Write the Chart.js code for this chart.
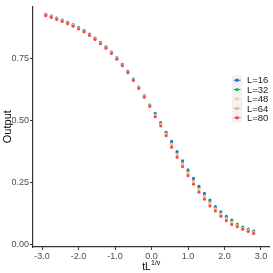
<!DOCTYPE html>
<html lang="en">
<head>
    <meta charset="UTF-8">
    <title>Scaling collapse</title>
    <script src="https://cdn.jsdelivr.net/npm/chart.js"></script>
    <style>
        html, body { margin: 0; padding: 0; background: #fff; }
        #wrap { width: 273px; height: 273px; position: relative; }
    </style>
</head>
<body>
    <div id="wrap"><canvas id="chart" width="273" height="273"></canvas></div>

    <script>
        // scaled variable tL^(1/v), shared by all sizes
        const xValues = [-2.9, -2.75, -2.6, -2.45, -2.3, -2.15, -2.0, -1.85, -1.7, -1.55,
            -1.4, -1.25, -1.1, -0.95, -0.8, -0.65, -0.5, -0.35, -0.2, -0.05,
            0.1, 0.25, 0.4, 0.55, 0.7, 0.85, 1.0, 1.15, 1.3, 1.45,
            1.6, 1.75, 1.9, 2.05, 2.2, 2.35, 2.5, 2.65, 2.8];

        const labels = ['L=16', 'L=32', 'L=48', 'L=64', 'L=80'];
        const colors = ['#2b63e6', '#1fa45e', '#fdcf7e', '#fba894', '#f3474d'];

        const outL16 = [0.928, 0.921, 0.913, 0.905, 0.896, 0.886, 0.875, 0.863, 0.849, 0.833,
            0.816, 0.797, 0.776, 0.753, 0.727, 0.699, 0.668, 0.635, 0.600, 0.563,
            0.530, 0.492, 0.453, 0.417, 0.376, 0.338, 0.302, 0.268, 0.236, 0.207,
            0.180, 0.154, 0.133, 0.115, 0.100, 0.083, 0.072, 0.063, 0.055];
        const outL32 = [0.927, 0.920, 0.912, 0.904, 0.895, 0.885, 0.874, 0.862, 0.848, 0.832,
            0.815, 0.796, 0.775, 0.752, 0.726, 0.698, 0.667, 0.634, 0.599, 0.562,
            0.527, 0.489, 0.450, 0.411, 0.370, 0.332, 0.296, 0.262, 0.230, 0.201,
            0.174, 0.150, 0.129, 0.111, 0.096, 0.081, 0.070, 0.061, 0.053];
        const outL48 = [0.925, 0.918, 0.910, 0.902, 0.893, 0.883, 0.872, 0.860, 0.846, 0.830,
            0.813, 0.794, 0.773, 0.750, 0.724, 0.696, 0.665, 0.632, 0.597, 0.560,
            0.523, 0.485, 0.446, 0.405, 0.364, 0.326, 0.290, 0.256, 0.224, 0.195,
            0.168, 0.145, 0.124, 0.106, 0.091, 0.078, 0.067, 0.058, 0.050];
        const outL64 = [0.924, 0.917, 0.909, 0.901, 0.892, 0.882, 0.871, 0.859, 0.845, 0.829,
            0.812, 0.793, 0.772, 0.749, 0.723, 0.695, 0.664, 0.631, 0.596, 0.559,
            0.519, 0.481, 0.442, 0.399, 0.358, 0.320, 0.284, 0.250, 0.218, 0.189,
            0.162, 0.140, 0.119, 0.101, 0.086, 0.075, 0.064, 0.055, 0.047];
        const outL80 = [0.922, 0.915, 0.907, 0.899, 0.890, 0.880, 0.869, 0.857, 0.843, 0.827,
            0.810, 0.791, 0.770, 0.747, 0.721, 0.693, 0.662, 0.629, 0.594, 0.557,
            0.516, 0.478, 0.439, 0.393, 0.352, 0.314, 0.278, 0.244, 0.212, 0.183,
            0.156, 0.136, 0.115, 0.097, 0.082, 0.073, 0.062, 0.053, 0.045];

        const outputs = [outL16, outL32, outL48, outL64, outL80];
        const xTicks = [-3, -2, -1, 0, 1, 2, 3];
        const yTicks = [0, 0.25, 0.5, 0.75];

        const FONT = '"Liberation Sans", Arial, sans-serif';

        const datasets = outputs.map((ys, i) => ({
            label: labels[i],
            data: ys.map((y, j) => ({ x: xValues[j], y: y })),
            backgroundColor: colors[i],
            borderWidth: 0,
            pointRadius: 1.5,
            order: outputs.length - i   // later sizes drawn on top
        }));

        // legend and axis titles drawn by hand (ggplot style)
        const extras = {
            id: 'extras',
            afterDraw(chart) {
                const ctx = chart.ctx;
                const area = chart.chartArea;
                ctx.save();

                // legend keys
                const kx = 232, kw = 10, ky0 = 75.5, kh = 9.4;
                ctx.fillStyle = '#f2f2f2';
                ctx.fillRect(kx, ky0, kw, kh * labels.length);
                labels.forEach((lab, i) => {
                    const cy = ky0 + kh * i + kh / 2;
                    ctx.strokeStyle = colors[i];
                    ctx.lineWidth = 1;
                    ctx.beginPath();
                    ctx.moveTo(kx + 1.5, cy);
                    ctx.lineTo(kx + kw - 1.5, cy);
                    ctx.stroke();
                    ctx.fillStyle = colors[i];
                    ctx.beginPath();
                    ctx.arc(kx + kw / 2, cy, 1.7, 0, Math.PI * 2);
                    ctx.fill();
                    ctx.fillStyle = '#1a1a1a';
                    ctx.font = '9.5px ' + FONT;
                    ctx.textAlign = 'left';
                    ctx.textBaseline = 'middle';
                    ctx.fillText(lab, 247, cy + 0.5);
                });

                // y title
                ctx.fillStyle = '#000';
                ctx.font = '11px ' + FONT;
                ctx.translate(8, (area.top + area.bottom) / 2);
                ctx.rotate(-Math.PI / 2);
                ctx.textAlign = 'center';
                ctx.textBaseline = 'middle';
                ctx.fillText('Output', 0, 0);
                ctx.setTransform(1, 0, 0, 1, 0, 0);

                // x title with superscript
                const cx = (area.left + area.right) / 2;
                ctx.font = '10px ' + FONT;
                const w1 = ctx.measureText('tL').width;
                ctx.font = '7px ' + FONT;
                const w2 = ctx.measureText('1/v').width;
                const start = cx - (w1 + w2) / 2;
                ctx.textAlign = 'left';
                ctx.textBaseline = 'alphabetic';
                ctx.font = '10px ' + FONT;
                ctx.fillText('tL', start, 270);
                ctx.font = '7px ' + FONT;
                ctx.fillText('1/v', start + w1 + 0.5, 265);
                ctx.restore();
            }
        };

        const ctx = document.getElementById('chart').getContext('2d');
        new Chart(ctx, {
            type: 'scatter',
            data: { datasets: datasets },
            options: {
                responsive: false,
                animation: false,
                events: [],
                layout: { padding: { top: 5, right: 3, left: 0, bottom: 0 } },
                plugins: { legend: { display: false }, tooltip: { enabled: false } },
                scales: {
                    x: {
                        type: 'linear',
                        min: -3.25,
                        max: 3.22,
                        afterBuildTicks: (s) => { s.ticks = xTicks.map(v => ({ value: v })); },
                        afterFit: (s) => { s.height = 26; },
                        grid: { display: true, drawOnChartArea: false, drawTicks: true, tickLength: 3, color: '#333', lineWidth: 1 },
                        border: { display: true, color: '#333', width: 1.2 },
                        ticks: {
                            color: '#4d4d4d',
                            padding: 1,
                            maxRotation: 0,
                            font: { family: FONT, size: 9 },
                            callback: (v) => Number(v).toFixed(1)
                        }
                    },
                    y: {
                        min: -0.009,
                        max: 0.96,
                        afterBuildTicks: (s) => { s.ticks = yTicks.map(v => ({ value: v })); },
                        afterFit: (s) => { s.width = 33; },
                        grid: { display: true, drawOnChartArea: false, drawTicks: true, tickLength: 3, color: '#333', lineWidth: 1 },
                        border: { display: true, color: '#333', width: 1.2 },
                        ticks: {
                            color: '#4d4d4d',
                            padding: 1,
                            font: { family: FONT, size: 9 },
                            callback: (v) => Number(v).toFixed(2)
                        }
                    }
                }
            },
            plugins: [extras]
        });
    </script>
</body>
</html>
